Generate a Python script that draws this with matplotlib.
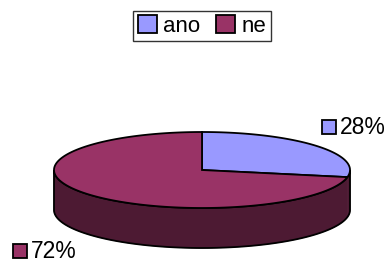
import numpy as np
import matplotlib
matplotlib.use('Agg')
import matplotlib.pyplot as plt
from matplotlib.patches import Polygon, Rectangle, Patch

labels = ['ano', 'ne']
values = [28, 72]
colors = ['#9999FF', '#993366']
side_colors = ['#4D1A33', '#4D1A33']

plt.rcParams['font.family'] = ['Liberation Sans', 'DejaVu Sans']

fig = plt.figure(figsize=(3.91, 2.62), dpi=100)
ax = fig.add_axes([0, 0, 1, 1])
ax.set_xlim(0, 391)
ax.set_ylim(262, 0)
ax.axis('off')

# pie geometry in pixel coords
cx, cy, rx, ry, depth = 202, 170, 148, 38, 40


def pt(t, dy=0):
    t = np.radians(t)
    return cx + rx * np.cos(t), cy - ry * np.sin(t) + dy


total = sum(values)
start = 90.0
spans = []
for v in values:
    end = start - v / total * 360
    spans.append((end, start))
    start = end

# sides (front half only: angles 180..360)
for (a0, a1), sc in zip(spans, side_colors):
    for off in (-360, 0, 360):
        lo = max(a0 + off, 180)
        hi = min(a1 + off, 360)
        if hi <= lo:
            continue
        ts = np.linspace(lo, hi, 100)
        top = [pt(t) for t in ts]
        bot = [pt(t, depth) for t in ts[::-1]]
        ax.add_patch(Polygon(top + bot, closed=True, facecolor=sc,
                             edgecolor=sc, lw=0.5, zorder=1))

# outline of the side
ts = np.linspace(180, 360, 200)
outline = [pt(t) for t in ts] + [pt(t, depth) for t in ts[::-1]]
ax.add_patch(Polygon(outline, closed=True, facecolor='none',
                     edgecolor='black', lw=1.3, zorder=1.5))

# top faces
for (a0, a1), c in zip(spans, colors):
    ts = np.linspace(a0, a1, 200)
    poly = [(cx, cy)] + [pt(t) for t in ts]
    ax.add_patch(Polygon(poly, closed=True, facecolor=c,
                         edgecolor='black', lw=1.3, zorder=2))

# data labels
label_pos = [(322, 127), (13, 251)]
for (x, y), c, v in zip(label_pos, colors, values):
    ax.add_patch(Rectangle((x, y - 7), 14, 14, facecolor=c,
                           edgecolor='black', lw=1.3, zorder=3))
    ax.text(x + 18, y + 1, f'{v}%', fontsize=16.5, va='center', ha='left',
            zorder=3)

handles = [Patch(facecolor=c, edgecolor='black', lw=1.3) for c in colors]
leg = fig.legend(handles, labels, ncol=2, loc='upper center',
                 bbox_to_anchor=(202 / 391, 1 - 11 / 262), frameon=True,
                 fancybox=False, edgecolor='black', fontsize=16,
                 handlelength=0.85, handleheight=0.85, handletextpad=0.3,
                 columnspacing=0.7, borderpad=0.2, borderaxespad=0)
leg.get_frame().set_linewidth(1.0)

fig.savefig('out.png', dpi=100)
